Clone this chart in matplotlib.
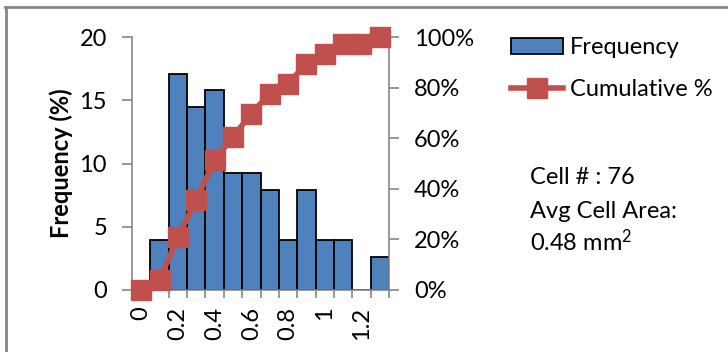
import matplotlib
matplotlib.use("Agg")
import matplotlib.pyplot as plt
from matplotlib.lines import Line2D
from matplotlib.patches import Patch
import numpy as np

plt.rcParams['font.family'] = ['Lato', 'DejaVu Sans']
plt.rcParams['mathtext.default'] = 'regular'

categories = ["0", "0.1", "0.2", "0.3", "0.4", "0.5", "0.6", "0.7", "0.8", "0.9", "1", "1.1", "1.2", "1.3"]
frequency = [0.0, 3.95, 17.11, 14.47, 15.79, 9.21, 9.21, 7.89, 3.95, 7.89, 3.95, 3.95, 0.0, 2.63]
cumulative = [0.0, 3.95, 21.05, 35.53, 51.32, 60.53, 69.74, 77.63, 81.58, 89.47, 93.42, 97.37, 97.37, 100.0]
shown_labels = ["0", "", "0.2", "", "0.4", "", "0.6", "", "0.8", "", "1", "", "1.2", ""]

bar_color = "#4F81BD"
line_color = "#C0504D"
axis_color = "#868686"
fs = 17

fig = plt.figure(figsize=(7.28, 3.52), dpi=100)
ax = fig.add_axes([132/728, 1-290/352, (389-132)/728, (290-37)/352])
x = np.arange(len(categories))
ax.bar(x, frequency, width=1.0, color=bar_color, edgecolor="black", linewidth=1.3, zorder=2)
ax.set_xlim(-0.5, len(categories) - 0.5)
ax.set_ylim(0, 20)
ax.set_yticks([0, 5, 10, 15, 20])
ax.set_ylabel("Frequency (%)", fontsize=fs, fontweight='bold', labelpad=5)

ax.set_xticks(np.arange(-0.5, len(categories), 1.0))
ax.set_xticklabels([])
ax.set_xticks(x, minor=True)
ax.set_xticklabels(shown_labels, minor=True, rotation=90, fontsize=fs, va='top')
ax.tick_params(axis='x', which='minor', length=0, pad=12)
ax.tick_params(axis='x', which='major', length=6, color=axis_color, width=1.2)
ax.tick_params(axis='y', length=7, color=axis_color, width=1.2, labelsize=fs, pad=11)

for s in ['top', 'right']:
    ax.spines[s].set_visible(False)
for s in ['left', 'bottom']:
    ax.spines[s].set_color(axis_color)
    ax.spines[s].set_linewidth(1.2)

ax2 = ax.twinx()
ax2.plot(x, cumulative, color=line_color, linewidth=4, marker='s', markersize=14,
         markerfacecolor=line_color, markeredgecolor=line_color, clip_on=False, zorder=3)
ax2.set_ylim(0, 100)
ax2.set_yticks([0, 20, 40, 60, 80, 100])
ax2.set_yticklabels([f"{v}%" for v in [0, 20, 40, 60, 80, 100]])
ax2.tick_params(axis='y', length=7, color=axis_color, width=1.2, labelsize=fs, pad=11)
for s in ['top', 'left', 'bottom']:
    ax2.spines[s].set_visible(False)
ax2.spines['right'].set_color(axis_color)
ax2.spines['right'].set_linewidth(1.2)

handles = [Patch(facecolor=bar_color, edgecolor='black', linewidth=1.3),
           Line2D([0], [0], color=line_color, linewidth=4, marker='s', markersize=14)]
fig.legend(handles, ["Frequency", "Cumulative %"], loc='upper left',
           bbox_to_anchor=(511/728, 1-37/352), frameon=False, fontsize=fs,
           handlelength=2.2, handleheight=0.65, handletextpad=0.3, labelspacing=0.9, borderaxespad=0,
           borderpad=0)

fig.text(530/728, 1-177/352, "Cell # : 76", fontsize=fs, va='center', ha='left')
fig.text(530/728, 1-211/352, "Avg Cell Area:", fontsize=fs, va='center', ha='left')
fig.text(530/728, 1-242/352, "0.48 mm$^2$", fontsize=fs, va='center', ha='left')

fig.add_artist(Line2D([5/728, 1], [1-7/352, 1-7/352], color=axis_color, linewidth=2, transform=fig.transFigure))
fig.add_artist(Line2D([6/728, 6/728], [0, 1-7/352], color=axis_color, linewidth=2, transform=fig.transFigure))

fig.savefig("out.png", dpi=100)
